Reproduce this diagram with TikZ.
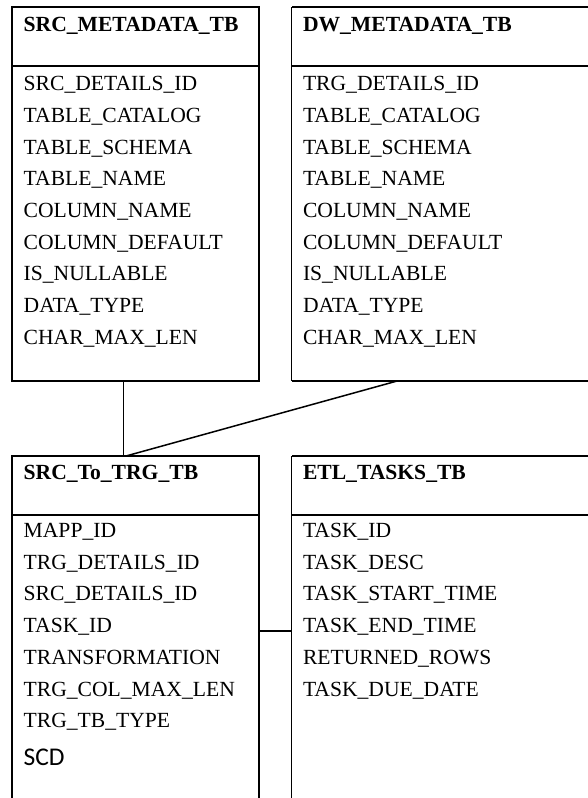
\documentclass[tikz,border=0pt]{standalone}
\usepackage{fontspec}
\setmainfont{Liberation Serif}
\newfontfamily\scdfont{Carlito}
\usetikzlibrary{calc}
\begin{document}
\begin{tikzpicture}[x=1pt,y=-1pt,
  tbox/.style={draw=none,rectangle,inner sep=0pt,anchor=north west},
  border/.style={line width=2pt,black},
  thinborder/.style={line width=1pt,black},
  conn/.style={line width=1.5pt,black},
  hdr/.style={inner sep=0pt,anchor=base west,font=\fontsize{21.6}{25}\selectfont\bfseries},
  fld/.style={inner sep=0pt,anchor=base west,font=\fontsize{21.6}{25}\selectfont}]
\useasboundingbox (0,0) rectangle (588,798);
\clip (0,0) rectangle (588,798);
% boxes
\node[tbox,minimum width=247pt,minimum height=373.4pt] (src) at (11.7,7.3) {};
\node[tbox,minimum width=330pt,minimum height=373.4pt] (dw) at (291.7,7.3) {};
\node[tbox,minimum width=247pt,minimum height=360pt] (map) at (11.7,456) {};
\node[tbox,minimum width=330pt,minimum height=360pt] (etl) at (291.7,456) {};
\draw[border] (src.north west) rectangle (src.south east);
\draw[border] (dw.north east) -- (dw.north west);
\draw[thinborder] (dw.north west) -- (dw.south west);
\draw[border] (dw.south west) -- (dw.south east);
\draw[border] (map.north west) rectangle (map.south east);
\draw[border] (etl.north east) -- (etl.north west);
\draw[thinborder] (etl.north west) -- (etl.south west);
% header dividers
\draw[border] (src.west |- 0,66) -- (src.east |- 0,66);
\draw[border] (dw.west |- 0,66) -- (dw.east |- 0,66);
\draw[border] (map.west |- 0,515) -- (map.east |- 0,515);
\draw[border] (etl.west |- 0,515) -- (etl.east |- 0,515);
% SRC_METADATA_TB
\node[hdr] (srch) at (23.5,31.7) {SRC\_METADATA\_TB};
\node[fld] (s1) at (23.5,90.7) {SRC\_DETAILS\_ID};
\node[fld] (s2) at (23.5,122.4) {TABLE\_CATALOG};
\node[fld] (s3) at (23.5,154.1) {TABLE\_SCHEMA};
\node[fld] (s4) at (23.5,185.8) {TABLE\_NAME};
\node[fld] (s5) at (23.5,217.5) {COLUMN\_NAME};
\node[fld] (s6) at (23.5,249.2) {COLUMN\_DEFAULT};
\node[fld] (s7) at (23.5,280.9) {IS\_NULLABLE};
\node[fld] (s8) at (23.5,312.6) {DATA\_TYPE};
\node[fld] (s9) at (23.5,344.3) {CHAR\_MAX\_LEN};
% DW_METADATA_TB
\node[hdr] (dwh) at (302.8,31.7) {DW\_METADATA\_TB};
\node[fld] (d1) at (302.8,90.7) {TRG\_DETAILS\_ID};
\node[fld] (d2) at (302.8,122.4) {TABLE\_CATALOG};
\node[fld] (d3) at (302.8,154.1) {TABLE\_SCHEMA};
\node[fld] (d4) at (302.8,185.8) {TABLE\_NAME};
\node[fld] (d5) at (302.8,217.5) {COLUMN\_NAME};
\node[fld] (d6) at (302.8,249.2) {COLUMN\_DEFAULT};
\node[fld] (d7) at (302.8,280.9) {IS\_NULLABLE};
\node[fld] (d8) at (302.8,312.6) {DATA\_TYPE};
\node[fld] (d9) at (302.8,344.3) {CHAR\_MAX\_LEN};
% SRC_To_TRG_TB
\node[hdr] (maph) at (23.5,479) {SRC\_To\_TRG\_TB};
\node[fld] (m1) at (23.5,537.3) {MAPP\_ID};
\node[fld] (m2) at (23.5,569.3) {TRG\_DETAILS\_ID};
\node[fld] (m3) at (23.5,600.3) {SRC\_DETAILS\_ID};
\node[fld] (m4) at (23.5,632.3) {TASK\_ID};
\node[fld] (m5) at (23.5,664) {TRANSFORMATION};
\node[fld] (m6) at (23.5,696) {TRG\_COL\_MAX\_LEN};
\node[fld] (m7) at (23.5,727.7) {TRG\_TB\_TYPE};
\node[inner sep=0pt,anchor=base west,font=\fontsize{25.5}{30}\selectfont\scdfont] (m8) at (23.5,765) {SCD};
% ETL_TASKS_TB
\node[hdr] (etlh) at (302.8,479) {ETL\_TASKS\_TB};
\node[fld] (e1) at (302.8,537.3) {TASK\_ID};
\node[fld] (e2) at (302.8,569.3) {TASK\_DESC};
\node[fld] (e3) at (302.8,600.3) {TASK\_START\_TIME};
\node[fld] (e4) at (302.8,632.3) {TASK\_END\_TIME};
\node[fld] (e5) at (302.8,664) {RETURNED\_ROWS};
\node[fld] (e6) at (302.8,696) {TASK\_DUE\_DATE};
% connectors
\draw[conn] ($(src.south west)!0.452!(src.south east)$) -- ($(map.north west)!0.452!(map.north east)$);
\draw[conn] ($(dw.south west)!0.318!(dw.south east)$) -- ($(map.north west)!0.462!(map.north east)$);
\draw[border] (map.east |- 0,631) -- (etl.west |- 0,631);
\end{tikzpicture}
\end{document}
